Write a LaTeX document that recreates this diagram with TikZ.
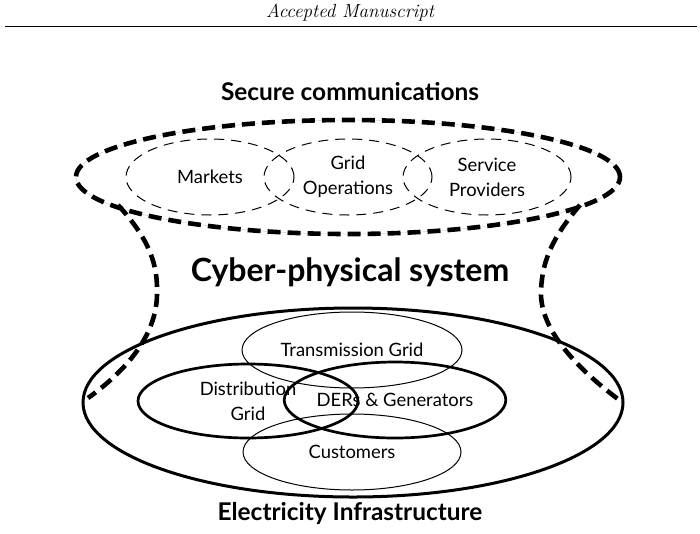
\documentclass[tikz,border=0pt]{standalone}
\usepackage{fontspec}
\usetikzlibrary{shapes.geometric}
\newfontfamily\lab{Lato}
\begin{document}
\begin{tikzpicture}[x=1pt,y=-1pt,
  thickdash/.style={line width=4.6pt, dash pattern=on 13pt off 7pt},
  thindash/.style={line width=1pt, dash pattern=on 10pt off 7pt},
  ell/.style={ellipse, inner sep=0pt, outer sep=0pt, align=center,
    font=\lab\fontsize{18.4}{25}\selectfont},
  thinell/.style={ell, draw, line width=1pt},
  thickell/.style={ell, draw, line width=2.7pt},
  title/.style={font=\lab\bfseries\fontsize{24.4}{28}\selectfont, inner sep=0pt}]
\useasboundingbox (0,0) rectangle (700,533);
% header
\node[font=\fontsize{19}{21}\selectfont\itshape, inner sep=0pt] (hdr) at (350,13) {Accepted Manuscript};
\coordinate (rl) at (5,26.5);
\coordinate (rr) at (697,26.5);
\draw[line width=0.9pt] (rl) -- (rr);
% titles
\node[title] (t1) at (350,92) {Secure communications};
\node[title, font=\lab\bfseries\fontsize{32}{36}\selectfont] (t2) at (350,272) {Cyber-physical system};
\node[title] (t3) at (350,513) {Electricity Infrastructure};
% top cyber layer
\node[ell, draw=gray!35, line width=0.5pt, minimum width=544pt, minimum height=114pt] (secbg) at (348,177) {};
\node[ell, draw, thickdash, minimum width=544pt, minimum height=114pt] (sec) at (348,177) {};
\node[ell, draw, thindash, minimum width=168pt, minimum height=76pt] (mk) at (210,177) {Markets};
\node[ell, draw, thindash, minimum width=168pt, minimum height=76pt] (go) at (348,177) {Grid\\Operations};
\node[ell, draw, thindash, minimum width=168pt, minimum height=76pt] (sp) at (487,177) {Service\\Providers};
% bottom physical layer
\node[ell, draw, line width=3pt, minimum width=540pt, minimum height=189pt] (inf) at (353,402.5) {};
\node[thinell, minimum width=220pt, minimum height=76pt] (tg) at (352,350) {Transmission Grid};
\node[thinell, minimum width=218pt, minimum height=76pt] (cu) at (352,452) {Customers};
\node[thickell, minimum width=220pt, minimum height=74pt] (dg) at (248,401) {Distribution\\Grid};
\node[thickell, minimum width=218pt, minimum height=76pt] (de) at (395,400) {DERs \& Generators};
% connecting dashed sides
\coordinate (la) at (118,205);
\coordinate (lm) at (157,295);
\coordinate (lb) at (88,398);
\coordinate (ra) at (580,205);
\coordinate (rm) at (541,295);
\coordinate (rb) at (622,402);
\draw[thickdash] (la) .. controls (150,240) and (158,265) .. (lm)
  .. controls (156,340) and (120,375) .. (lb);
\draw[thickdash] (ra) .. controls (550,240) and (541,265) .. (rm)
  .. controls (542,335) and (585,375) .. (rb);
\end{tikzpicture}
\end{document}
